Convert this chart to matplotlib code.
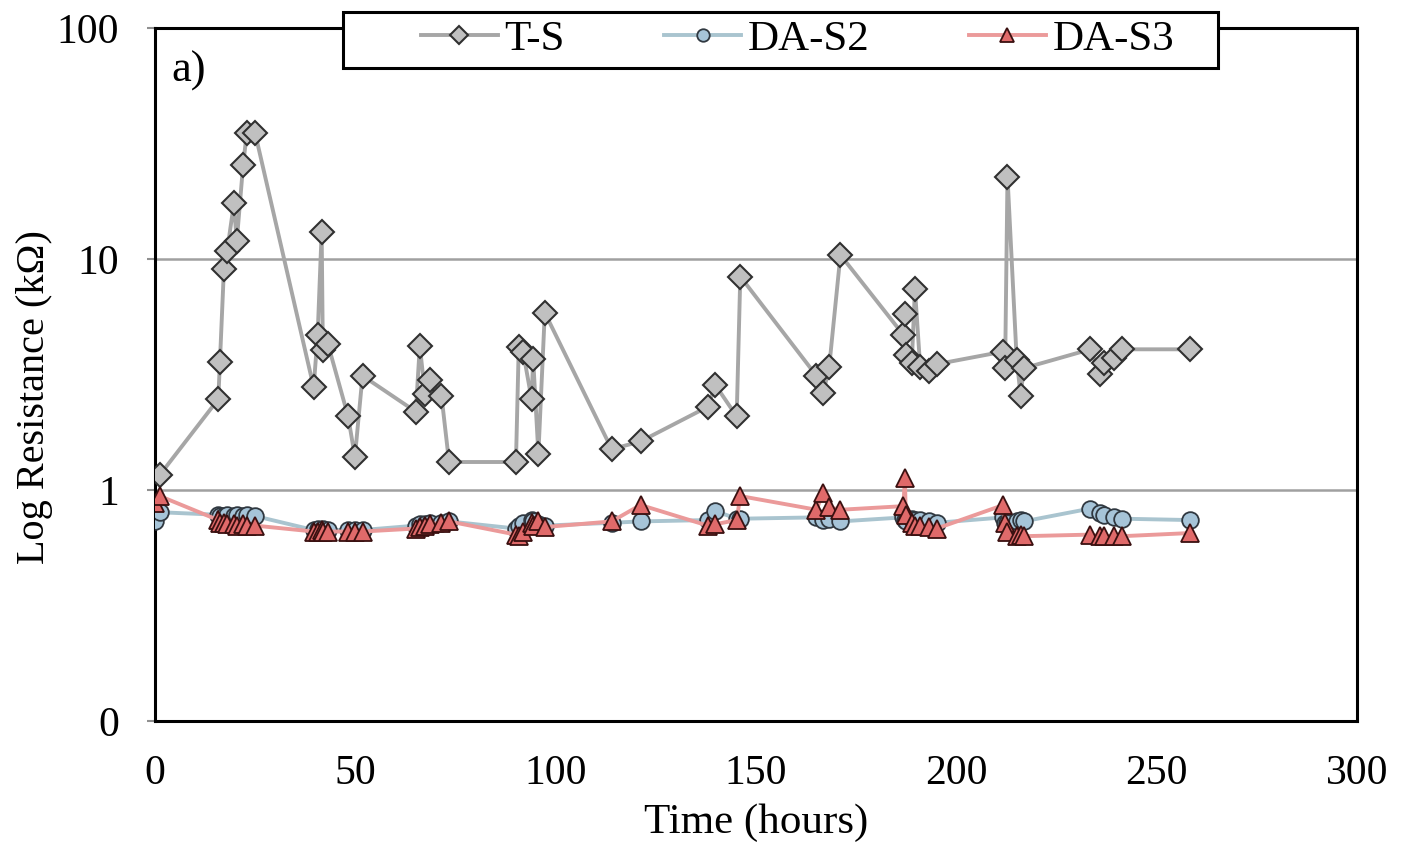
import matplotlib
matplotlib.use("Agg")
import matplotlib.pyplot as plt
from matplotlib.patches import Rectangle
from matplotlib.ticker import FixedLocator, FixedFormatter, NullLocator

plt.rcParams['font.family'] = ['Liberation Serif', 'DejaVu Serif']

# measurement times (hours)
ts_x = [1.2, 15.8, 16.2, 17.2, 18.0, 19.7, 20.4, 22.0, 22.9, 25.0,
        39.6, 40.6, 41.6, 41.9, 43.2, 48.2, 49.9, 51.8,
        65.1, 66.1, 67.4, 68.6, 71.5, 73.4,
        90.1, 90.8, 91.9, 94.0, 94.4, 95.7, 97.3,
        114.0, 121.2, 138.0, 139.9, 145.2, 146.1,
        165.1, 166.8, 168.3, 171.1,
        186.8, 187.2, 187.4, 188.9, 189.7, 191.0, 193.2, 195.1,
        211.8, 212.2, 212.8, 215.1, 216.1, 216.8,
        233.5, 235.8, 236.8, 239.3, 241.4, 258.3]
ts_y = [1.16, 2.47, 3.56, 9.0, 10.8, 17.4, 11.9, 25.5, 35.0, 35.0,
        2.78, 4.69, 13.1, 4.03, 4.26, 2.08, 1.39, 3.12,
        2.18, 4.2, 2.6, 2.99, 2.56, 1.32,
        1.32, 4.17, 3.95, 2.47, 3.68, 1.43, 5.85,
        1.5, 1.62, 2.29, 2.84, 2.08, 8.39,
        3.12, 2.62, 3.42, 10.4,
        4.69, 5.77, 3.84, 3.54, 7.38, 3.42, 3.28, 3.5,
        3.97, 3.36, 22.7, 3.65, 2.55, 3.36,
        4.06, 3.18, 3.54, 3.72, 4.06, 4.06]

da_x = [0.0] + ts_x
s2_y = [0.73, 0.80,
        0.78, 0.77, 0.77, 0.78, 0.77, 0.78, 0.77, 0.78, 0.77,
        0.67, 0.68, 0.67, 0.68, 0.67, 0.67, 0.67, 0.67,
        0.70, 0.71, 0.71, 0.72, 0.72, 0.73,
        0.68, 0.70, 0.72, 0.74, 0.73, 0.71, 0.70,
        0.72, 0.73, 0.74, 0.81, 0.75, 0.75,
        0.76, 0.74, 0.75, 0.73,
        0.76, 0.74, 0.73, 0.75, 0.74, 0.74, 0.73, 0.72,
        0.76, 0.72, 0.72, 0.73, 0.74, 0.73,
        0.83, 0.79, 0.78, 0.76, 0.75, 0.74]
s3_y = [0.88, 0.94,
        0.74, 0.72, 0.72, 0.71, 0.71, 0.70, 0.71, 0.70, 0.70,
        0.66, 0.66, 0.67, 0.66, 0.66, 0.66, 0.66, 0.66,
        0.68, 0.69, 0.70, 0.71, 0.72, 0.73,
        0.64, 0.63, 0.66, 0.72, 0.70, 0.73, 0.69,
        0.73, 0.86, 0.70, 0.71, 0.74, 0.94,
        0.82, 0.97, 0.84, 0.82,
        0.85, 1.12, 0.78, 0.72, 0.70, 0.70, 0.69, 0.68,
        0.86, 0.72, 0.66, 0.63, 0.64, 0.63,
        0.64, 0.63, 0.63, 0.63, 0.63, 0.65]

fig = plt.figure(figsize=(14.04, 8.47), dpi=100)
ax = fig.add_axes([0.1104, 0.149, 0.856, 0.818])

ax.plot(ts_x, ts_y, color='#a6a6a6', lw=2.8, marker='D', ms=12,
        mfc='#c0c0c0', mec='#303030', mew=1.5, label='T-S', zorder=3)
ax.plot(da_x, s2_y, color='#a9c4cf', lw=2.8, marker='o', ms=12,
        mfc='#a6c4d8', mec='#303840', mew=1.3, label='DA-S2', zorder=4)
ax.plot(da_x, s3_y, color='#eb9a9a', lw=2.8, marker='^', ms=13,
        mfc='#e06a6a', mec='#3a1010', mew=1.3, label='DA-S3', zorder=5)

ax.set_yscale('log')
ax.set_ylim(0.1, 100)
ax.set_xlim(0, 300)
ax.yaxis.set_major_locator(FixedLocator([0.1, 1, 10, 100]))
ax.yaxis.set_major_formatter(FixedFormatter(['0', '1', '10', '100']))
ax.yaxis.set_minor_locator(NullLocator())
ax.set_xticks(range(0, 301, 50))

for v in [1, 10]:
    ax.axhline(v, color='#a0a0a0', lw=1.8, zorder=1)

ax.tick_params(axis='x', labelsize=30, length=0, pad=24)
ax.tick_params(axis='y', labelsize=30, length=6, width=1.5, color='#909090', pad=20)
for s in ax.spines.values():
    s.set_color('black')
    s.set_linewidth(2.2)

ax.set_xlabel('Time (hours)', fontsize=31, labelpad=8)
ax.set_ylabel('Log Resistance (k\u03a9)', fontsize=29)
ax.yaxis.set_label_coords(-0.085, 0.467)
ax.text(0.014, 0.968, 'a)', transform=ax.transAxes, fontsize=32, va='top')

# legend box as in the original (wider than its content, sits over the top spine)
fig.patches.append(Rectangle((343 / 1404, 1 - 68 / 847), 875 / 1404, 56 / 847,
                             transform=fig.transFigure, facecolor='white',
                             edgecolor='black', lw=2.2, zorder=2))
handles, labels = ax.get_legend_handles_labels()
leg = fig.legend(handles, labels, loc='center', bbox_to_anchor=(0.568, 0.953),
                 ncol=3, fontsize=31, frameon=False, handlelength=1.8,
                 columnspacing=2.3, handletextpad=0.15, markerscale=0.75)
leg.set_zorder(5)

fig.savefig('out.png', dpi=100)
